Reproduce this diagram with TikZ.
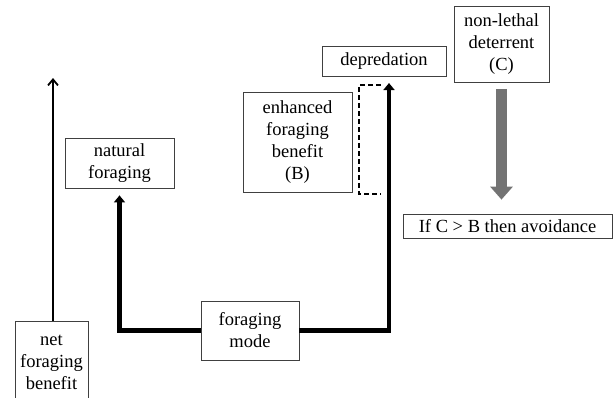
\documentclass[tikz,border=0pt]{standalone}
\usepackage{fontspec}
\setmainfont{Liberation Serif}
\usetikzlibrary{arrows.meta}
\begin{document}
\begin{tikzpicture}[x=1pt,y=-1pt,
    box/.style={draw=black!75,line width=0.8pt,fill=white,align=center,inner sep=0pt,
      font=\fontsize{18.5}{22}\selectfont},
    axis/.style={line width=1.8pt,-{Straight Barb[length=6pt,width=10pt]}},
    mode path/.style={line width=4.5pt,-{Triangle[length=7pt,width=11pt]}},
    deter arrow/.style={line width=11pt,black!55,-{Triangle[length=13pt,width=22pt]}}]
  \useasboundingbox (0,0) rectangle (614,397);
  % boxes
  \node[box,minimum width=73,minimum height=82] (net) at (51.5,362) {net\\foraging\\benefit};
  \node[box,minimum width=109,minimum height=50] (natural) at (119.5,163) {natural\\foraging};
  \node[box,minimum width=98,minimum height=59] (mode) at (250,330.5) {foraging\\mode};
  \node[box,minimum width=109,minimum height=100] (enhanced) at (297.5,142) {enhanced\\foraging\\benefit\\(B)};
  \node[box,minimum width=124,minimum height=30] (depred) at (384,61.5) {depredation};
  \node[box,minimum width=95,minimum height=76] (deter) at (501.5,44.5) {non-lethal\\deterrent\\(C)};
  \node[box,minimum width=209,minimum height=24] (avoid) at (507.5,226) {If C > B then avoidance};
  \coordinate (nettop) at (53,78);
  \coordinate (deptip) at (389,83);
  % arrows
  \draw[axis] (net.north -| nettop) -- (nettop);
  \draw[mode path] (mode.west) -| ([yshift=-7pt]natural.south);
  \draw[mode path] (mode.east) -| (deptip);
  \draw[deter arrow] ([yshift=-6pt]deter.south) -- ([yshift=14pt]avoid.north -| deter.south);
  \draw[line width=1.6pt,dash pattern=on 5pt off 3pt] (381,85) -| (359,194) -- (381,194);
\end{tikzpicture}
\end{document}
